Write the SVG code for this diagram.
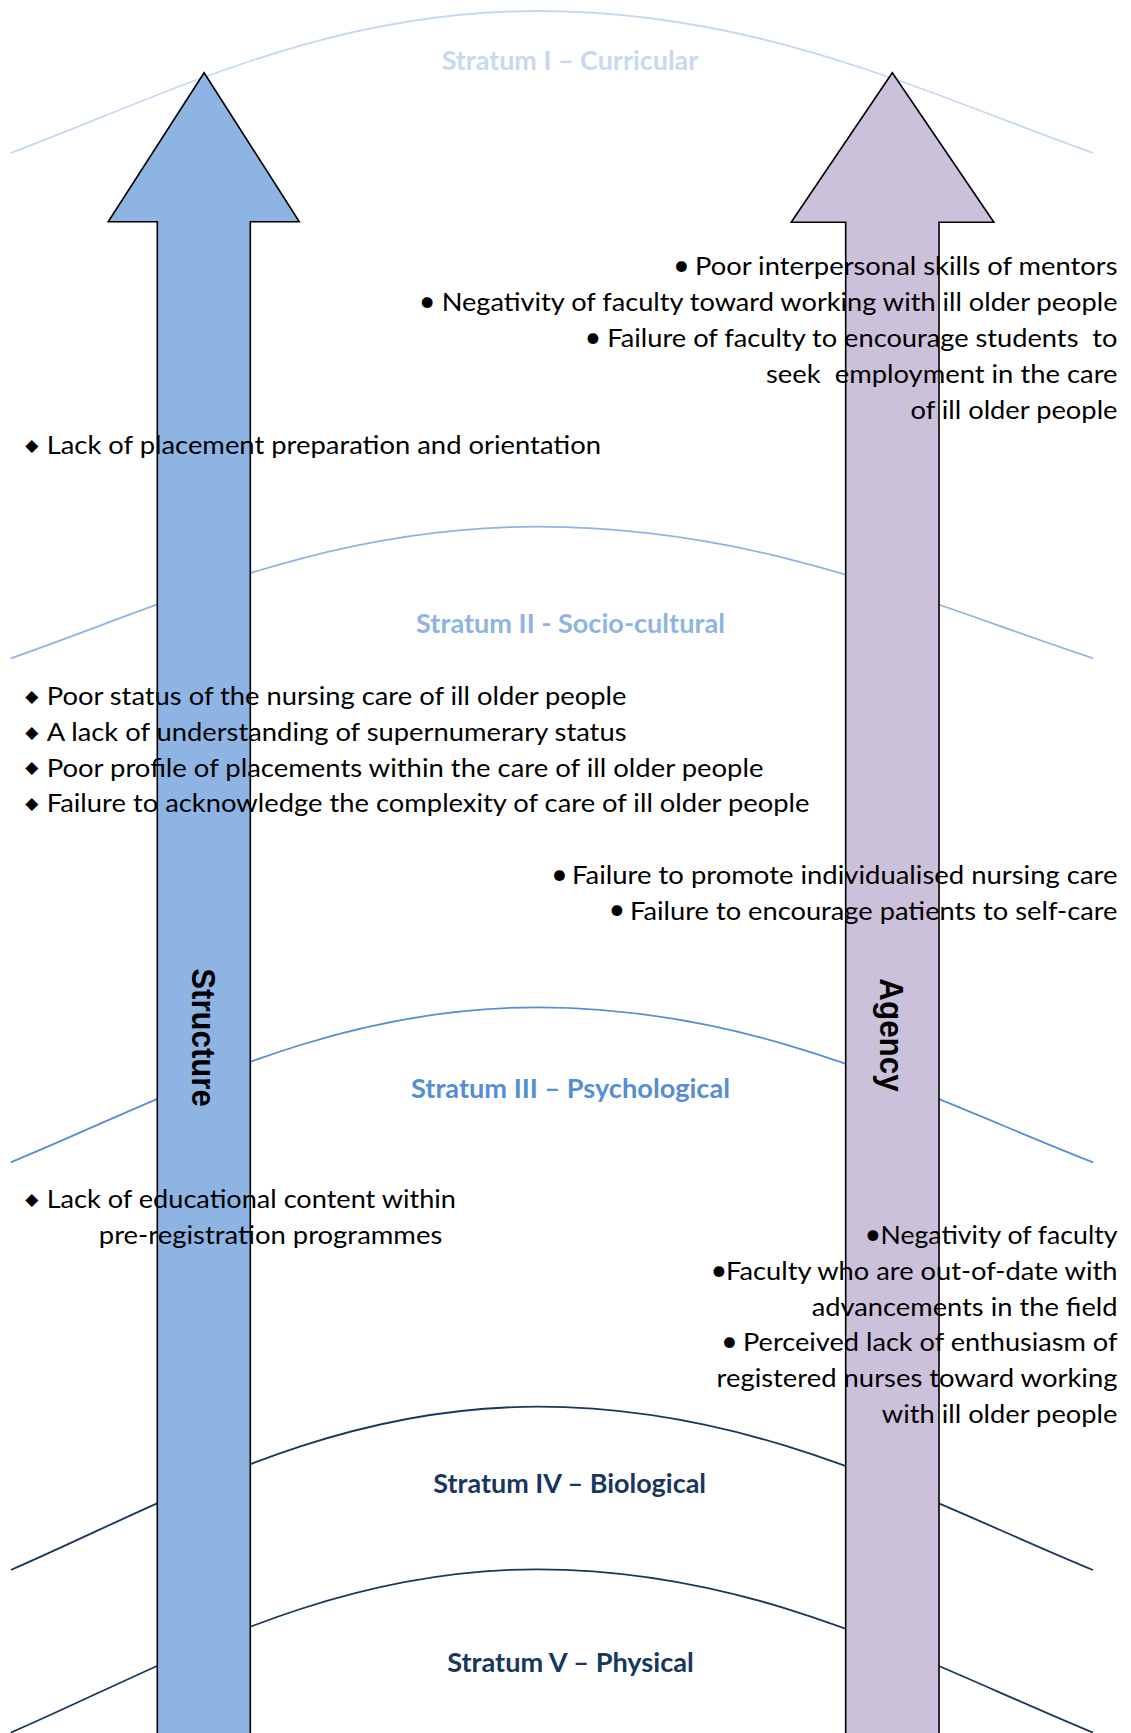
<svg xmlns="http://www.w3.org/2000/svg" width="1131" height="1733" viewBox="0 0 1131 1733">
<style>
.t{font-family:Lato,"Open Sans","Liberation Sans",sans-serif;font-size:24.5px;fill:#000;white-space:pre}
.e{text-anchor:end}
.b{font-family:Lato,"Liberation Sans",sans-serif;font-size:29px;text-anchor:middle;fill:#000}
.d{font-family:"DejaVu Sans",sans-serif;font-size:17px;text-anchor:middle;fill:#000}
.s{font-family:Lato,"Liberation Sans",sans-serif;font-weight:bold;font-size:27px;text-anchor:middle}
.arrow{stroke:#000;stroke-width:1.6;stroke-linejoin:miter}
.curve{fill:none;stroke-width:1.8}
.v{font-family:"Liberation Sans",Arial,sans-serif;font-weight:bold;font-size:33px;text-anchor:middle;fill:#000}
</style>
<rect width="1131" height="1733" fill="#fff"/>
<g id="strata-curves">
<path class="curve" stroke="#C6D9F1" d="M10.8,153 C168.8,93.4 326.8,11 537.5,11 C759.7,11 926.4,93.4 1093,153"/>
<path class="curve" stroke="#8EB4E3" d="M10.8,658.3 C168.8,603 326.8,526.7 537.5,526.7 C759.7,526.7 926.4,603 1093,658.3"/>
<path class="curve" stroke="#558ED5" d="M10.8,1162.3 C168.8,1097.2 326.8,1007.3 537.5,1007.3 C759.7,1007.3 926.4,1097.2 1093,1162.3"/>
<path class="curve" stroke="#17375E" d="M10.8,1570 C168.8,1501.4 326.8,1406.7 537.5,1406.7 C759.7,1406.7 926.4,1501.4 1093,1570"/>
<path class="curve" stroke="#17375E" d="M10.8,1732.6 C168.8,1664 326.8,1569.3 537.5,1569.3 C759.7,1569.3 926.4,1664 1093,1732.6"/>
</g>
<g id="strata-labels">
<text class="s" x="570" y="70" fill="#C6D9F1" textLength="256.6" lengthAdjust="spacingAndGlyphs">Stratum I – Curricular</text>
<text class="s" x="570.5" y="633.3" fill="#8EB4E3" textLength="308.8" lengthAdjust="spacingAndGlyphs">Stratum II - Socio-cultural</text>
<text class="s" x="570.5" y="1098.3" fill="#558ED5" textLength="319" lengthAdjust="spacingAndGlyphs">Stratum III – Psychological</text>
<text class="s" x="569.7" y="1493.3" fill="#17375E" textLength="272.7" lengthAdjust="spacingAndGlyphs">Stratum IV – Biological</text>
<text class="s" x="570.5" y="1671.7" fill="#17375E" textLength="246.7" lengthAdjust="spacingAndGlyphs">Stratum V – Physical</text>
</g>
<g id="structure">
<path class="arrow" fill="#8EB4E3" d="M204.1,72.7 L299.3,221.7 L250.3,221.7 L250.3,1745 L157.3,1745 L157.3,221.7 L108.2,221.7 Z"/>
<text class="v" transform="translate(191.7,1037.5) rotate(90)" textLength="138.4" lengthAdjust="spacingAndGlyphs">Structure</text>
</g>
<g id="agency">
<path class="arrow" fill="#CCC1DA" d="M892.3,72.7 L993.9,222.3 L939,222.3 L939,1745 L845.7,1745 L845.7,222.3 L791.2,222.3 Z"/>
<text class="v" transform="translate(879.7,1035) rotate(90)" textLength="113.4" lengthAdjust="spacingAndGlyphs">Agency</text>
</g>
<g id="curricular-items">
<text class="b" x="681.3" y="274.5">•</text>
<text class="t e" x="1117.5" y="275" textLength="422.5" lengthAdjust="spacingAndGlyphs">Poor interpersonal skills of mentors</text>
<text class="b" x="427.2" y="310.5">•</text>
<text class="t e" x="1117.5" y="311" textLength="675.8" lengthAdjust="spacingAndGlyphs">Negativity of faculty toward working with ill older people</text>
<text class="b" x="592.8" y="346.5">•</text>
<text class="t e" x="1117.5" y="347" textLength="510.2" lengthAdjust="spacingAndGlyphs" xml:space="preserve">Failure of faculty to encourage students  to</text>
<text class="t e" x="1117.5" y="383" textLength="351.5" lengthAdjust="spacingAndGlyphs" xml:space="preserve">seek  employment in the care</text>
<text class="t e" x="1117.5" y="418.5" textLength="207" lengthAdjust="spacingAndGlyphs">of ill older people</text>
<text class="d" x="31.7" y="450.5">◆</text>
<text class="t" x="46.7" y="454" textLength="554.3" lengthAdjust="spacingAndGlyphs">Lack of placement preparation and orientation</text>
</g>
<g id="sociocultural-items">
<text class="d" x="31.7" y="701.5">◆</text>
<text class="t" x="46.7" y="705" textLength="579.8" lengthAdjust="spacingAndGlyphs">Poor status of the nursing care of ill older people</text>
<text class="d" x="31.7" y="737.5">◆</text>
<text class="t" x="46.7" y="741" textLength="579.8" lengthAdjust="spacingAndGlyphs">A lack of understanding of supernumerary status</text>
<text class="d" x="31.7" y="773">◆</text>
<text class="t" x="46.7" y="776.5" textLength="716.8" lengthAdjust="spacingAndGlyphs">Poor profile of placements within the care of ill older people</text>
<text class="d" x="31.7" y="808.5">◆</text>
<text class="t" x="46.7" y="812" textLength="762.8" lengthAdjust="spacingAndGlyphs">Failure to acknowledge the complexity of care of ill older people</text>
<text class="b" x="559.5" y="883.5">•</text>
<text class="t e" x="1117.5" y="884" textLength="545.5" lengthAdjust="spacingAndGlyphs">Failure to promote individualised nursing care</text>
<text class="b" x="617" y="919">•</text>
<text class="t e" x="1117.5" y="919.5" textLength="487.5" lengthAdjust="spacingAndGlyphs">Failure to encourage patients to self-care</text>
</g>
<g id="psychological-items">
<text class="d" x="31.7" y="1204.5">◆</text>
<text class="t" x="46.7" y="1208" textLength="409.3" lengthAdjust="spacingAndGlyphs">Lack of educational content within</text>
<text class="t" x="98.8" y="1244" textLength="343.5" lengthAdjust="spacingAndGlyphs">pre-registration programmes</text>
<text class="b" x="873" y="1243.5">•</text>
<text class="t e" x="1117.5" y="1244" textLength="237" lengthAdjust="spacingAndGlyphs">Negativity of faculty</text>
<text class="b" x="719" y="1279.5">•</text>
<text class="t e" x="1117.5" y="1280" textLength="391.5" lengthAdjust="spacingAndGlyphs">Faculty who are out-of-date with</text>
<text class="t e" x="1117.5" y="1315.5" textLength="305.8" lengthAdjust="spacingAndGlyphs">advancements in the field</text>
<text class="b" x="729.5" y="1350.5">•</text>
<text class="t e" x="1117.5" y="1351" textLength="374.5" lengthAdjust="spacingAndGlyphs">Perceived lack of enthusiasm of</text>
<text class="t e" x="1117.5" y="1387" textLength="401" lengthAdjust="spacingAndGlyphs">registered nurses toward working</text>
<text class="t e" x="1117.5" y="1422.5" textLength="235.8" lengthAdjust="spacingAndGlyphs">with ill older people</text>
</g>
</svg>
